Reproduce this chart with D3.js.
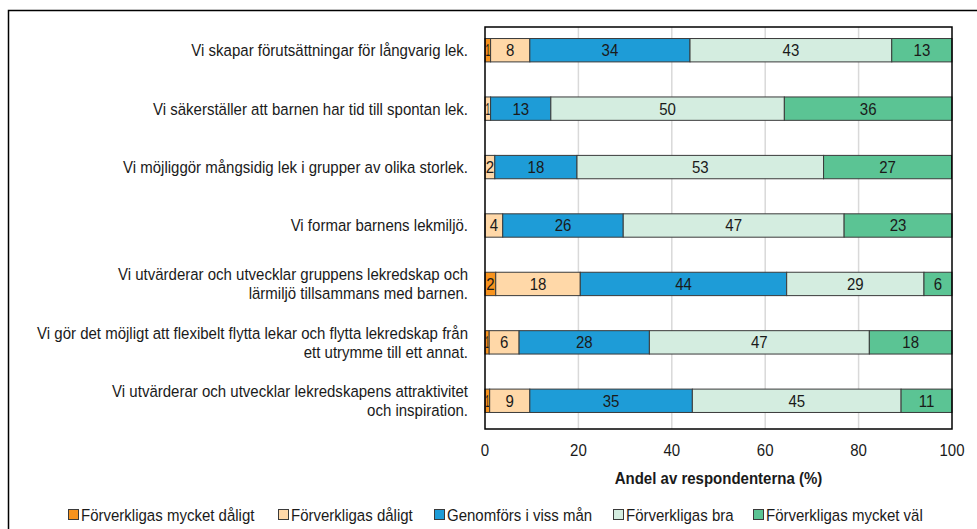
<!DOCTYPE html>
<html>
<head>
<meta charset="utf-8">
<script src="https://cdn.jsdelivr.net/npm/d3@7/dist/d3.min.js"></script>
<style>
  body { margin: 0; background: #fff; }
  svg { font-family: "Liberation Sans", Arial, sans-serif; }
</style>
</head>
<body>
<div id="chart"></div>
<script>
//Datos
const categorias = [
    'Vi skapar förutsättningar för långvarig lek.',
    'Vi säkerställer att barnen har tid till spontan lek.',
    'Vi möjliggör mångsidig lek i grupper av olika storlek.',
    'Vi formar barnens lekmiljö.',
    'Vi utvärderar och utvecklar gruppens lekredskap och\nlärmiljö tillsammans med barnen.',
    'Vi gör det möjligt att flexibelt flytta lekar och flytta lekredskap från\nett utrymme till ett annat.',
    'Vi utvärderar och utvecklar lekredskapens attraktivitet\noch inspiration.'
];

const serier = ['Förverkligas mycket dåligt', 'Förverkligas dåligt', 'Genomförs i viss mån', 'Förverkligas bra', 'Förverkligas mycket väl'];

const mycketDaligt = [1.2, 0, 0, 0, 2.3, 0.9, 1.0];
const daligt       = [8.4, 1.2, 2.1, 3.8, 18.1, 6.4, 8.6];
const vissMan      = [34.3, 12.9, 17.6, 25.8, 44.2, 27.9, 34.8];
const bra          = [43.2, 50.0, 52.8, 47.3, 29.4, 47.1, 44.7];
const mycketVal    = [12.9, 35.9, 27.4, 23.1, 6.0, 17.7, 10.9];

const ticks = [0, 20, 40, 60, 80, 100];

const colores = ['#F7931E', '#FFD8A8', '#1E9CD7', '#D4EDE0', '#5BC494'];

//Tabla para d3.stack
let data = categorias.map(function(c, i) {
    return {
        cat: c,
        'Förverkligas mycket dåligt': mycketDaligt[i],
        'Förverkligas dåligt': daligt[i],
        'Genomförs i viss mån': vissMan[i],
        'Förverkligas bra': bra[i],
        'Förverkligas mycket väl': mycketVal[i]
    };
});

let W = 977, H = 529;
let plot = {left: 485, right: 952, top: 27, bottom: 429};
let FS = '16.5px';
let SX = 0.91; //compresión horizontal (letra estrecha)

//Texto estrecho: se posiciona con transform
function pos(px, py) {
    return 'translate(' + px + ',' + py + ') scale(' + SX + ',1)';
}

let svg = d3.select('#chart')
    .append('svg')
    .attr('width', W)
    .attr('height', H);

//Borde exterior
svg.append('rect')
    .attr('x', 8.5).attr('y', 10.5)
    .attr('width', W).attr('height', H)
    .attr('fill', 'none')
    .attr('stroke', '#000')
    .attr('stroke-width', 1.5);

let x = d3.scaleLinear()
    .domain([0, 100])
    .range([plot.left, plot.right]);

let y = d3.scaleBand()
    .domain(categorias)
    .range([21, 430])
    .paddingInner(0.6)
    .paddingOuter(0.3);

let color = d3.scaleOrdinal()
    .domain(serier)
    .range(colores);

//Rejilla
svg.append('g')
    .selectAll('line')
    .data(ticks.slice(1, -1))
    .enter()
    .append('line')
    .attr('x1', d => x(d)).attr('x2', d => x(d))
    .attr('y1', plot.top).attr('y2', plot.bottom)
    .attr('stroke', '#d9d9d9')
    .attr('stroke-width', 1.5);

let stacked = d3.stack().keys(serier)(data);

let capas = svg.append('g')
    .selectAll('g')
    .data(stacked)
    .enter()
    .append('g')
    .attr('fill', d => color(d.key));

capas.selectAll('rect')
    .data(d => d)
    .enter()
    .filter(d => d[1] - d[0] > 0)
    .append('rect')
    .attr('x', d => x(d[0]))
    .attr('y', d => y(d.data.cat))
    .attr('width', d => x(d[1]) - x(d[0]))
    .attr('height', y.bandwidth())
    .attr('stroke', '#3a3a3a')
    .attr('stroke-width', 1);

//Etiquetas de valores
capas.selectAll('text')
    .data(d => d)
    .enter()
    .filter(d => d[1] - d[0] > 0)
    .append('text')
    .attr('transform', d => pos((x(d[0]) + x(d[1])) / 2, y(d.data.cat) + y.bandwidth() / 2))
    .attr('dy', '0.36em')
    .attr('text-anchor', 'middle')
    .attr('fill', '#1a1a1a')
    .style('font-size', FS)
    .text(d => Math.round(d[1] - d[0]))
    .each(function(d) {
        let w = (x(d[1]) - x(d[0])) / SX;
        let tw = this.getComputedTextLength();
        if (tw > w - 1) {
            d3.select(this)
                .attr('textLength', Math.max(w - 1, 2))
                .attr('lengthAdjust', 'spacingAndGlyphs');
        }
    });

//Marco del gráfico
svg.append('rect')
    .attr('x', plot.left).attr('y', plot.top)
    .attr('width', plot.right - plot.left)
    .attr('height', plot.bottom - plot.top)
    .attr('fill', 'none')
    .attr('stroke', '#000')
    .attr('stroke-width', 1.5);

//Eje X
svg.append('g')
    .selectAll('text')
    .data(ticks)
    .enter()
    .append('text')
    .attr('transform', d => pos(x(d), 456))
    .attr('text-anchor', 'middle')
    .attr('fill', '#1a1a1a')
    .style('font-size', FS)
    .text(d => d);

svg.append('text')
    .attr('transform', pos((plot.left + plot.right) / 2, 484))
    .attr('text-anchor', 'middle')
    .attr('fill', '#1a1a1a')
    .style('font-size', FS)
    .style('font-weight', 'bold')
    .text('Andel av respondenterna (%)');

//Etiquetas de categorías
svg.append('g')
    .selectAll('text')
    .data(categorias)
    .enter()
    .append('text')
    .attr('text-anchor', 'end')
    .attr('fill', '#1a1a1a')
    .style('font-size', FS)
    .each(function(c) {
        let lineas = c.split('\n');
        let cy = y(c) + y.bandwidth() / 2;
        let lh = 19;
        let y0 = cy - (lineas.length - 1) * lh / 2;
        d3.select(this).attr('transform', pos(468, y0));
        lineas.forEach(function(l, i) {
            d3.select(this).append('tspan')
                .attr('x', 0)
                .attr('y', i * lh)
                .attr('dy', '0.36em')
                .text(l);
        }, this);
    });

//Leyenda
let leyendaX = [68, 278, 434, 613, 753];
let leyenda = svg.append('g')
    .selectAll('g')
    .data(serier)
    .enter()
    .append('g')
    .attr('transform', (d, i) => 'translate(' + leyendaX[i] + ',515)');

leyenda.append('rect')
    .attr('x', 0.5).attr('y', -5.5)
    .attr('width', 10).attr('height', 10)
    .attr('fill', d => color(d))
    .attr('stroke', '#3a3a3a')
    .attr('stroke-width', 1);

leyenda.append('text')
    .attr('transform', pos(13, 0))
    .attr('dy', '0.36em')
    .attr('fill', '#1a1a1a')
    .style('font-size', FS)
    .text(d => d);
</script>
</body>
</html>
